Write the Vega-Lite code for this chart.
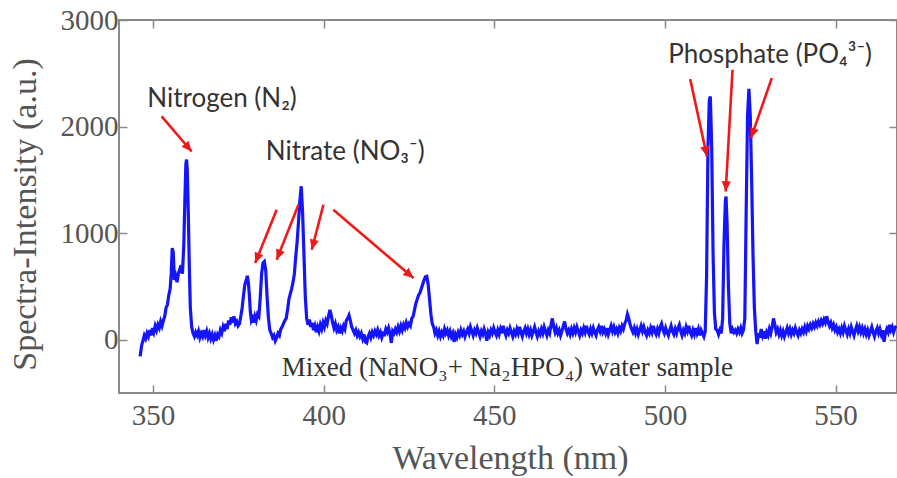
{
  "$schema": "https://vega.github.io/schema/vega-lite/v6.json",
  "autosize": {"type": "none"},
  "padding": {"left": 119, "top": 20, "right": 0, "bottom": 85},
  "width": 778,
  "height": 373,
  "background": "white",
  "config": {
    "view": {"stroke": "#8a8a8a", "strokeWidth": 2},
    "axis": {"grid": false, "domain": false, "tickColor": "#8a8a8a", "tickWidth": 1.5, "tickSize": -8,
             "labelFont": "Liberation Serif", "labelFontSize": 29, "labelColor": "#555555",
             "titleFont": "Liberation Serif", "titleFontSize": 34, "titleFontWeight": "normal", "titleColor": "#555555"}
  },
  "datasets": {
    "spectrum": [
      {"w":346.2,"i":-156},{"w":346.6,"i":-60},{"w":347.0,"i":-10},{"w":347.4,"i":40},{"w":347.8,"i":10},{"w":348.2,"i":60},{"w":348.6,"i":30},{"w":349.0,"i":90},{"w":349.4,"i":40},{"w":349.8,"i":110},
      {"w":350.2,"i":70},{"w":350.6,"i":130},{"w":351.0,"i":90},{"w":351.4,"i":140},{"w":351.8,"i":110},{"w":352.2,"i":170},{"w":352.6,"i":130},{"w":353.0,"i":180},{"w":353.4,"i":220},{"w":353.8,"i":300},
      {"w":354.2,"i":330},{"w":354.6,"i":420},{"w":355.0,"i":480},{"w":355.3,"i":620},{"w":355.6,"i":860},{"w":355.9,"i":820},{"w":356.2,"i":560},{"w":356.6,"i":600},{"w":357.0,"i":540},{"w":357.4,"i":620},
      {"w":357.8,"i":660},{"w":358.2,"i":700},{"w":358.6,"i":620},{"w":359.0,"i":900},{"w":359.3,"i":1300},{"w":359.6,"i":1650},{"w":359.8,"i":1690},{"w":360.0,"i":1600},{"w":360.3,"i":1200},{"w":360.6,"i":700},
      {"w":360.9,"i":300},{"w":361.3,"i":120},{"w":361.7,"i":60},{"w":362.1,"i":30},{"w":362.5,"i":70},{"w":362.9,"i":40},{"w":363.3,"i":80},{"w":363.7,"i":20},{"w":364.1,"i":60},{"w":364.5,"i":30},
      {"w":364.9,"i":90},{"w":365.3,"i":40},{"w":365.7,"i":80},{"w":366.1,"i":20},{"w":366.5,"i":60},{"w":366.9,"i":10},{"w":367.3,"i":50},{"w":367.7,"i":0},{"w":368.1,"i":40},{"w":368.5,"i":-10},
      {"w":368.9,"i":50},{"w":369.3,"i":30},{"w":369.7,"i":90},{"w":370.1,"i":60},{"w":370.5,"i":120},{"w":370.9,"i":80},{"w":371.3,"i":150},{"w":371.7,"i":100},{"w":372.1,"i":180},{"w":372.5,"i":140},
      {"w":372.9,"i":210},{"w":373.3,"i":160},{"w":373.7,"i":220},{"w":374.1,"i":150},{"w":374.5,"i":170},{"w":374.9,"i":130},{"w":375.3,"i":150},{"w":375.7,"i":220},{"w":376.1,"i":300},{"w":376.5,"i":420},
      {"w":376.9,"i":520},{"w":377.3,"i":560},{"w":377.6,"i":600},{"w":377.9,"i":540},{"w":378.2,"i":420},{"w":378.5,"i":260},{"w":378.8,"i":180},{"w":379.1,"i":200},{"w":379.4,"i":160},{"w":379.8,"i":220},
      {"w":380.2,"i":180},{"w":380.6,"i":240},{"w":381.0,"i":220},{"w":381.4,"i":400},{"w":381.8,"i":620},{"w":382.2,"i":720},{"w":382.6,"i":734},{"w":383.0,"i":650},{"w":383.4,"i":400},{"w":383.8,"i":200},
      {"w":384.2,"i":90},{"w":384.6,"i":60},{"w":385.0,"i":20},{"w":385.4,"i":40},{"w":385.8,"i":-10},{"w":386.2,"i":20},{"w":386.6,"i":60},{"w":387.0,"i":40},{"w":387.4,"i":100},{"w":387.8,"i":120},
      {"w":388.2,"i":150},{"w":388.6,"i":180},{"w":389.0,"i":200},{"w":389.4,"i":280},{"w":389.8,"i":380},{"w":390.2,"i":430},{"w":390.6,"i":480},{"w":391.0,"i":540},{"w":391.4,"i":620},{"w":391.8,"i":780},
      {"w":392.2,"i":920},{"w":392.6,"i":1100},{"w":393.0,"i":1300},{"w":393.4,"i":1440},{"w":393.8,"i":1200},{"w":394.2,"i":800},{"w":394.6,"i":400},{"w":395.0,"i":200},{"w":395.4,"i":140},{"w":395.8,"i":190},
      {"w":396.2,"i":120},{"w":396.6,"i":160},{"w":397.0,"i":90},{"w":397.4,"i":130},{"w":397.8,"i":70},{"w":398.2,"i":120},{"w":398.6,"i":80},{"w":399.0,"i":140},{"w":399.4,"i":100},{"w":399.8,"i":160},
      {"w":400.2,"i":120},{"w":400.6,"i":180},{"w":401.0,"i":150},{"w":401.4,"i":220},{"w":401.8,"i":280},{"w":402.2,"i":230},{"w":402.6,"i":160},{"w":403.0,"i":110},{"w":403.4,"i":150},{"w":403.8,"i":90},
      {"w":404.2,"i":120},{"w":404.6,"i":60},{"w":405.0,"i":110},{"w":405.4,"i":80},{"w":405.8,"i":130},{"w":406.2,"i":100},{"w":406.6,"i":180},{"w":407.0,"i":200},{"w":407.4,"i":230},{"w":407.8,"i":180},
      {"w":408.2,"i":120},{"w":408.6,"i":90},{"w":409.0,"i":60},{"w":409.4,"i":90},{"w":409.8,"i":40},{"w":410.2,"i":70},{"w":410.6,"i":30},{"w":411.0,"i":60},{"w":411.4,"i":10},{"w":411.8,"i":50},
      {"w":412.2,"i":-20},{"w":412.6,"i":-30},{"w":413.0,"i":30},{"w":413.4,"i":60},{"w":413.8,"i":20},{"w":414.2,"i":70},{"w":414.6,"i":40},{"w":415.0,"i":80},{"w":415.4,"i":50},{"w":415.8,"i":90},
      {"w":416.2,"i":40},{"w":416.6,"i":70},{"w":417.0,"i":20},{"w":417.4,"i":60},{"w":417.8,"i":50},{"w":418.2,"i":100},{"w":418.6,"i":70},{"w":419.0,"i":110},{"w":419.4,"i":60},{"w":419.8,"i":-30},
      {"w":420.2,"i":80},{"w":420.6,"i":60},{"w":421.0,"i":100},{"w":421.4,"i":70},{"w":421.8,"i":120},{"w":422.2,"i":80},{"w":422.6,"i":130},{"w":423.0,"i":90},{"w":423.4,"i":140},{"w":423.8,"i":110},
      {"w":424.2,"i":160},{"w":424.6,"i":120},{"w":425.0,"i":150},{"w":425.4,"i":130},{"w":425.8,"i":200},{"w":426.2,"i":220},{"w":426.6,"i":280},{"w":427.0,"i":340},{"w":427.4,"i":380},{"w":427.8,"i":420},
      {"w":428.2,"i":440},{"w":428.6,"i":480},{"w":429.0,"i":520},{"w":429.4,"i":560},{"w":429.8,"i":590},{"w":430.2,"i":594},{"w":430.6,"i":520},{"w":431.0,"i":380},{"w":431.4,"i":240},{"w":431.8,"i":150},
      {"w":432.2,"i":120},{"w":432.6,"i":60},{"w":433.0,"i":90},{"w":433.4,"i":40},{"w":433.8,"i":80},{"w":434.2,"i":30},{"w":434.6,"i":70},{"w":435.0,"i":40},{"w":435.4,"i":100},{"w":435.8,"i":60},
      {"w":436.2,"i":90},{"w":436.6,"i":40},{"w":437.0,"i":80},{"w":437.4,"i":30},{"w":437.8,"i":60},{"w":438.2,"i":-20},{"w":438.6,"i":50},{"w":439.0,"i":20},{"w":439.4,"i":70},{"w":439.8,"i":40},
      {"w":440.2,"i":90},{"w":440.6,"i":50},{"w":441.0,"i":80},{"w":441.4,"i":30},{"w":441.8,"i":70},{"w":442.2,"i":100},{"w":442.6,"i":60},{"w":443.0,"i":120},{"w":443.4,"i":80},{"w":443.8,"i":40},
      {"w":444.2,"i":90},{"w":444.6,"i":60},{"w":445.0,"i":110},{"w":445.4,"i":70},{"w":445.8,"i":30},{"w":446.2,"i":80},{"w":446.6,"i":50},{"w":447.0,"i":100},{"w":447.4,"i":60},{"w":447.8,"i":-10},
      {"w":448.2,"i":70},{"w":448.6,"i":40},{"w":449.0,"i":90},{"w":449.4,"i":60},{"w":449.8,"i":110},{"w":450.2,"i":70},{"w":450.6,"i":40},{"w":451.0,"i":90},{"w":451.4,"i":50},{"w":451.8,"i":100},
      {"w":452.2,"i":60},{"w":452.6,"i":130},{"w":453.0,"i":80},{"w":453.4,"i":40},{"w":453.8,"i":90},{"w":454.2,"i":60},{"w":454.6,"i":110},{"w":455.0,"i":70},{"w":455.4,"i":30},{"w":455.8,"i":80},
      {"w":456.2,"i":50},{"w":456.6,"i":100},{"w":457.0,"i":60},{"w":457.4,"i":120},{"w":457.8,"i":70},{"w":458.2,"i":30},{"w":458.6,"i":80},{"w":459.0,"i":110},{"w":459.4,"i":60},{"w":459.8,"i":100},
      {"w":460.2,"i":50},{"w":460.6,"i":90},{"w":461.0,"i":40},{"w":461.4,"i":80},{"w":461.8,"i":120},{"w":462.2,"i":70},{"w":462.6,"i":30},{"w":463.0,"i":80},{"w":463.4,"i":50},{"w":463.8,"i":100},
      {"w":464.2,"i":60},{"w":464.6,"i":120},{"w":465.0,"i":80},{"w":465.4,"i":40},{"w":465.8,"i":90},{"w":466.2,"i":60},{"w":466.6,"i":140},{"w":467.0,"i":200},{"w":467.4,"i":120},{"w":467.8,"i":70},
      {"w":468.2,"i":110},{"w":468.6,"i":60},{"w":469.0,"i":90},{"w":469.4,"i":40},{"w":469.8,"i":80},{"w":470.2,"i":130},{"w":470.6,"i":170},{"w":471.0,"i":100},{"w":471.4,"i":60},{"w":471.8,"i":90},
      {"w":472.2,"i":50},{"w":472.6,"i":100},{"w":473.0,"i":60},{"w":473.4,"i":110},{"w":473.8,"i":70},{"w":474.2,"i":120},{"w":474.6,"i":80},{"w":475.0,"i":40},{"w":475.4,"i":90},{"w":475.8,"i":60},
      {"w":476.2,"i":110},{"w":476.6,"i":70},{"w":477.0,"i":130},{"w":477.4,"i":80},{"w":477.8,"i":50},{"w":478.2,"i":100},{"w":478.6,"i":60},{"w":479.0,"i":110},{"w":479.4,"i":70},{"w":479.8,"i":40},
      {"w":480.2,"i":90},{"w":480.6,"i":120},{"w":481.0,"i":80},{"w":481.4,"i":130},{"w":481.8,"i":70},{"w":482.2,"i":100},{"w":482.6,"i":60},{"w":483.0,"i":110},{"w":483.4,"i":50},{"w":483.8,"i":90},
      {"w":484.2,"i":130},{"w":484.6,"i":80},{"w":485.0,"i":120},{"w":485.4,"i":70},{"w":485.8,"i":100},{"w":486.2,"i":60},{"w":486.6,"i":110},{"w":487.0,"i":80},{"w":487.4,"i":130},{"w":487.8,"i":100},
      {"w":488.2,"i":150},{"w":488.6,"i":180},{"w":489.0,"i":240},{"w":489.4,"i":200},{"w":489.8,"i":140},{"w":490.2,"i":100},{"w":490.6,"i":70},{"w":491.0,"i":110},{"w":491.4,"i":60},{"w":491.8,"i":100},
      {"w":492.2,"i":50},{"w":492.6,"i":90},{"w":493.0,"i":130},{"w":493.4,"i":80},{"w":493.8,"i":120},{"w":494.2,"i":70},{"w":494.6,"i":40},{"w":495.0,"i":90},{"w":495.4,"i":60},{"w":495.8,"i":110},
      {"w":496.2,"i":70},{"w":496.6,"i":130},{"w":497.0,"i":80},{"w":497.4,"i":50},{"w":497.8,"i":100},{"w":498.2,"i":60},{"w":498.6,"i":120},{"w":499.0,"i":150},{"w":499.4,"i":90},{"w":499.8,"i":60},
      {"w":500.2,"i":110},{"w":500.6,"i":70},{"w":501.0,"i":40},{"w":501.4,"i":90},{"w":501.8,"i":130},{"w":502.2,"i":80},{"w":502.6,"i":50},{"w":503.0,"i":100},{"w":503.4,"i":60},{"w":503.8,"i":110},
      {"w":504.2,"i":140},{"w":504.6,"i":80},{"w":505.0,"i":40},{"w":505.4,"i":90},{"w":505.8,"i":60},{"w":506.2,"i":120},{"w":506.6,"i":80},{"w":507.0,"i":130},{"w":507.4,"i":70},{"w":507.8,"i":40},
      {"w":508.2,"i":90},{"w":508.6,"i":50},{"w":509.0,"i":110},{"w":509.4,"i":60},{"w":509.8,"i":100},{"w":510.2,"i":40},{"w":510.6,"i":90},{"w":511.0,"i":60},{"w":511.4,"i":30},{"w":511.8,"i":80},
      {"w":512.2,"i":600},{"w":512.6,"i":1800},{"w":513.0,"i":2250},{"w":513.3,"i":2282},{"w":513.7,"i":1800},{"w":514.1,"i":800},{"w":514.5,"i":250},{"w":514.9,"i":100},{"w":515.3,"i":90},{"w":515.7,"i":50},
      {"w":516.1,"i":90},{"w":516.5,"i":60},{"w":516.9,"i":200},{"w":517.3,"i":900},{"w":517.7,"i":1300},{"w":517.9,"i":1344},{"w":518.2,"i":1100},{"w":518.6,"i":500},{"w":519.0,"i":150},{"w":519.4,"i":60},
      {"w":519.8,"i":100},{"w":520.2,"i":70},{"w":520.6,"i":90},{"w":521.0,"i":60},{"w":521.4,"i":100},{"w":521.8,"i":70},{"w":522.2,"i":110},{"w":522.6,"i":60},{"w":523.0,"i":90},{"w":523.4,"i":200},
      {"w":523.8,"i":1200},{"w":524.2,"i":2100},{"w":524.6,"i":2354},{"w":525.0,"i":2100},{"w":525.4,"i":1500},{"w":525.8,"i":800},{"w":526.2,"i":300},{"w":526.6,"i":80},{"w":527.0,"i":-40},{"w":527.4,"i":60},
      {"w":527.8,"i":20},{"w":528.2,"i":100},{"w":528.6,"i":40},{"w":529.0,"i":80},{"w":529.4,"i":10},{"w":529.8,"i":70},{"w":530.2,"i":40},{"w":530.6,"i":100},{"w":531.0,"i":60},{"w":531.4,"i":120},
      {"w":531.8,"i":200},{"w":532.2,"i":140},{"w":532.6,"i":70},{"w":533.0,"i":100},{"w":533.4,"i":50},{"w":533.8,"i":90},{"w":534.2,"i":40},{"w":534.6,"i":80},{"w":535.0,"i":30},{"w":535.4,"i":70},
      {"w":535.8,"i":110},{"w":536.2,"i":60},{"w":536.6,"i":100},{"w":537.0,"i":50},{"w":537.4,"i":90},{"w":537.8,"i":60},{"w":538.2,"i":110},{"w":538.6,"i":70},{"w":539.0,"i":40},{"w":539.4,"i":90},
      {"w":539.8,"i":60},{"w":540.2,"i":100},{"w":540.6,"i":70},{"w":541.0,"i":120},{"w":541.4,"i":80},{"w":541.8,"i":130},{"w":542.2,"i":100},{"w":542.6,"i":140},{"w":543.0,"i":110},{"w":543.4,"i":150},
      {"w":543.8,"i":120},{"w":544.2,"i":160},{"w":544.6,"i":130},{"w":545.0,"i":170},{"w":545.4,"i":140},{"w":545.8,"i":180},{"w":546.2,"i":150},{"w":546.6,"i":190},{"w":547.0,"i":160},{"w":547.4,"i":220},
      {"w":547.8,"i":170},{"w":548.2,"i":130},{"w":548.6,"i":160},{"w":549.0,"i":110},{"w":549.4,"i":140},{"w":549.8,"i":90},{"w":550.2,"i":120},{"w":550.6,"i":70},{"w":551.0,"i":100},{"w":551.4,"i":60},
      {"w":551.8,"i":110},{"w":552.2,"i":70},{"w":552.6,"i":130},{"w":553.0,"i":90},{"w":553.4,"i":50},{"w":553.8,"i":100},{"w":554.2,"i":60},{"w":554.6,"i":120},{"w":555.0,"i":80},{"w":555.4,"i":40},
      {"w":555.8,"i":90},{"w":556.2,"i":130},{"w":556.6,"i":80},{"w":557.0,"i":120},{"w":557.4,"i":70},{"w":557.8,"i":110},{"w":558.2,"i":60},{"w":558.6,"i":100},{"w":559.0,"i":50},{"w":559.4,"i":90},
      {"w":559.8,"i":40},{"w":560.2,"i":80},{"w":560.6,"i":120},{"w":561.0,"i":70},{"w":561.4,"i":30},{"w":561.8,"i":80},{"w":562.2,"i":110},{"w":562.6,"i":60},{"w":563.0,"i":100},{"w":563.4,"i":50},
      {"w":563.8,"i":90},{"w":564.2,"i":-20},{"w":564.6,"i":60},{"w":565.0,"i":100},{"w":565.4,"i":70},{"w":565.8,"i":140},{"w":566.2,"i":90},{"w":566.6,"i":120},{"w":567.0,"i":70},{"w":567.4,"i":110},
      {"w":567.8,"i":130}
    ],
    "arrows": [
      {"x1":352.5,"y1":2095,"x2":361.3,"y2":1766},
      {"x1":386.2,"y1":1219,"x2":379.9,"y2":719},
      {"x1":392.6,"y1":1266,"x2":386.2,"y2":750},
      {"x1":399.9,"y1":1266,"x2":396.5,"y2":844},
      {"x1":402.8,"y1":1219,"x2":426.3,"y2":579},
      {"x1":507.4,"y1":2445,"x2":512.3,"y2":1719},
      {"x1":519.8,"y1":2533,"x2":517.8,"y2":1391},
      {"x1":531.3,"y1":2455,"x2":525.2,"y2":1892}
    ],
    "labels": [
      {"w":370.2,"i":2186,"t":"Nitrogen (N₂)"},
      {"w":406.3,"i":1688,"t":"Nitrate (NO₃⁻)"},
      {"w":530.8,"i":2598,"t":"Phosphate (PO₄³⁻)"}
    ],
    "sample": [
      {"w":453.8,"i":-338,"t":"Mixed (NaNO₃+ Na₂HPO₄) water sample"}
    ]
  },
  "resolve": {"axis": {"x": "independent", "y": "independent"}},
  "layer": [
    {
      "data": {"name": "spectrum"},
      "mark": {"type": "line", "color": "#1414ff", "strokeWidth": 3.2, "interpolate": "linear"},
      "encoding": {
        "x": {"field": "w", "type": "quantitative",
              "scale": {"domain": [340, 568], "nice": false, "zero": false},
              "axis": {"orient": "bottom", "values": [350, 400, 450, 500, 550], "format": "d", "labelPadding": 16,
                       "labelFont": "Liberation Serif, Times New Roman, serif", "labelFontSize": 29,
                       "title": "Wavelength (nm)", "titleX": 391, "titleY": 75, "titleBaseline": "alphabetic", "titleAnchor": "middle"}},
        "y": {"field": "i", "type": "quantitative",
              "scale": {"domain": [-500, 3000], "nice": false, "zero": false},
              "axis": {"orient": "left", "values": [0, 1000, 2000, 3000], "format": "d", "labelPadding": 9,
                       "labelFont": "Liberation Serif, Times New Roman, serif", "labelFontSize": 29,
                       "title": "Spectra-Intensity (a.u.)", "titleX": -84, "titleY": 194, "titleBaseline": "alphabetic", "titleAngle": -90, "titleAlign": "center"}}
      }
    },
    {
      "data": {"name": "arrows"},
      "mark": {"type": "rule", "color": "#f01818", "strokeWidth": 2.6},
      "encoding": {
        "x": {"field": "x1", "type": "quantitative", "axis": {"orient": "top", "values": [350, 400, 450, 500, 550], "labels": false, "title": null}},
        "y": {"field": "y1", "type": "quantitative", "axis": {"orient": "right", "values": [0, 1000, 2000, 3000], "labels": false, "title": null}},
        "x2": {"field": "x2"},
        "y2": {"field": "y2"}
      }
    },
    {
      "data": {"name": "arrows"},
      "transform": [
        {"calculate": "atan2((datum.x2 - datum.x1) * 3.4123, (datum.y2 - datum.y1) * 0.10657) * 180 / PI", "as": "ang"}
      ],
      "mark": {"type": "point", "shape": "M0,0L-0.45,1L0.45,1Z", "filled": true, "color": "#f01818", "opacity": 1, "size": 420},
      "encoding": {
        "x": {"field": "x2", "type": "quantitative", "axis": null},
        "y": {"field": "y2", "type": "quantitative", "axis": null},
        "angle": {"field": "ang", "type": "quantitative", "scale": null}
      }
    },
    {
      "data": {"name": "labels"},
      "mark": {"type": "text", "font": "Lato", "fontSize": 26, "color": "#333333", "align": "center", "baseline": "alphabetic"},
      "encoding": {
        "x": {"field": "w", "type": "quantitative", "axis": null},
        "y": {"field": "i", "type": "quantitative", "axis": null},
        "text": {"field": "t"}
      }
    },
    {
      "data": {"name": "sample"},
      "mark": {"type": "text", "font": "Liberation Serif, Times New Roman, serif", "fontSize": 27, "color": "#333333", "align": "center", "baseline": "alphabetic"},
      "encoding": {
        "x": {"field": "w", "type": "quantitative", "axis": null},
        "y": {"field": "i", "type": "quantitative", "axis": null},
        "text": {"field": "t"}
      }
    }
  ]
}
